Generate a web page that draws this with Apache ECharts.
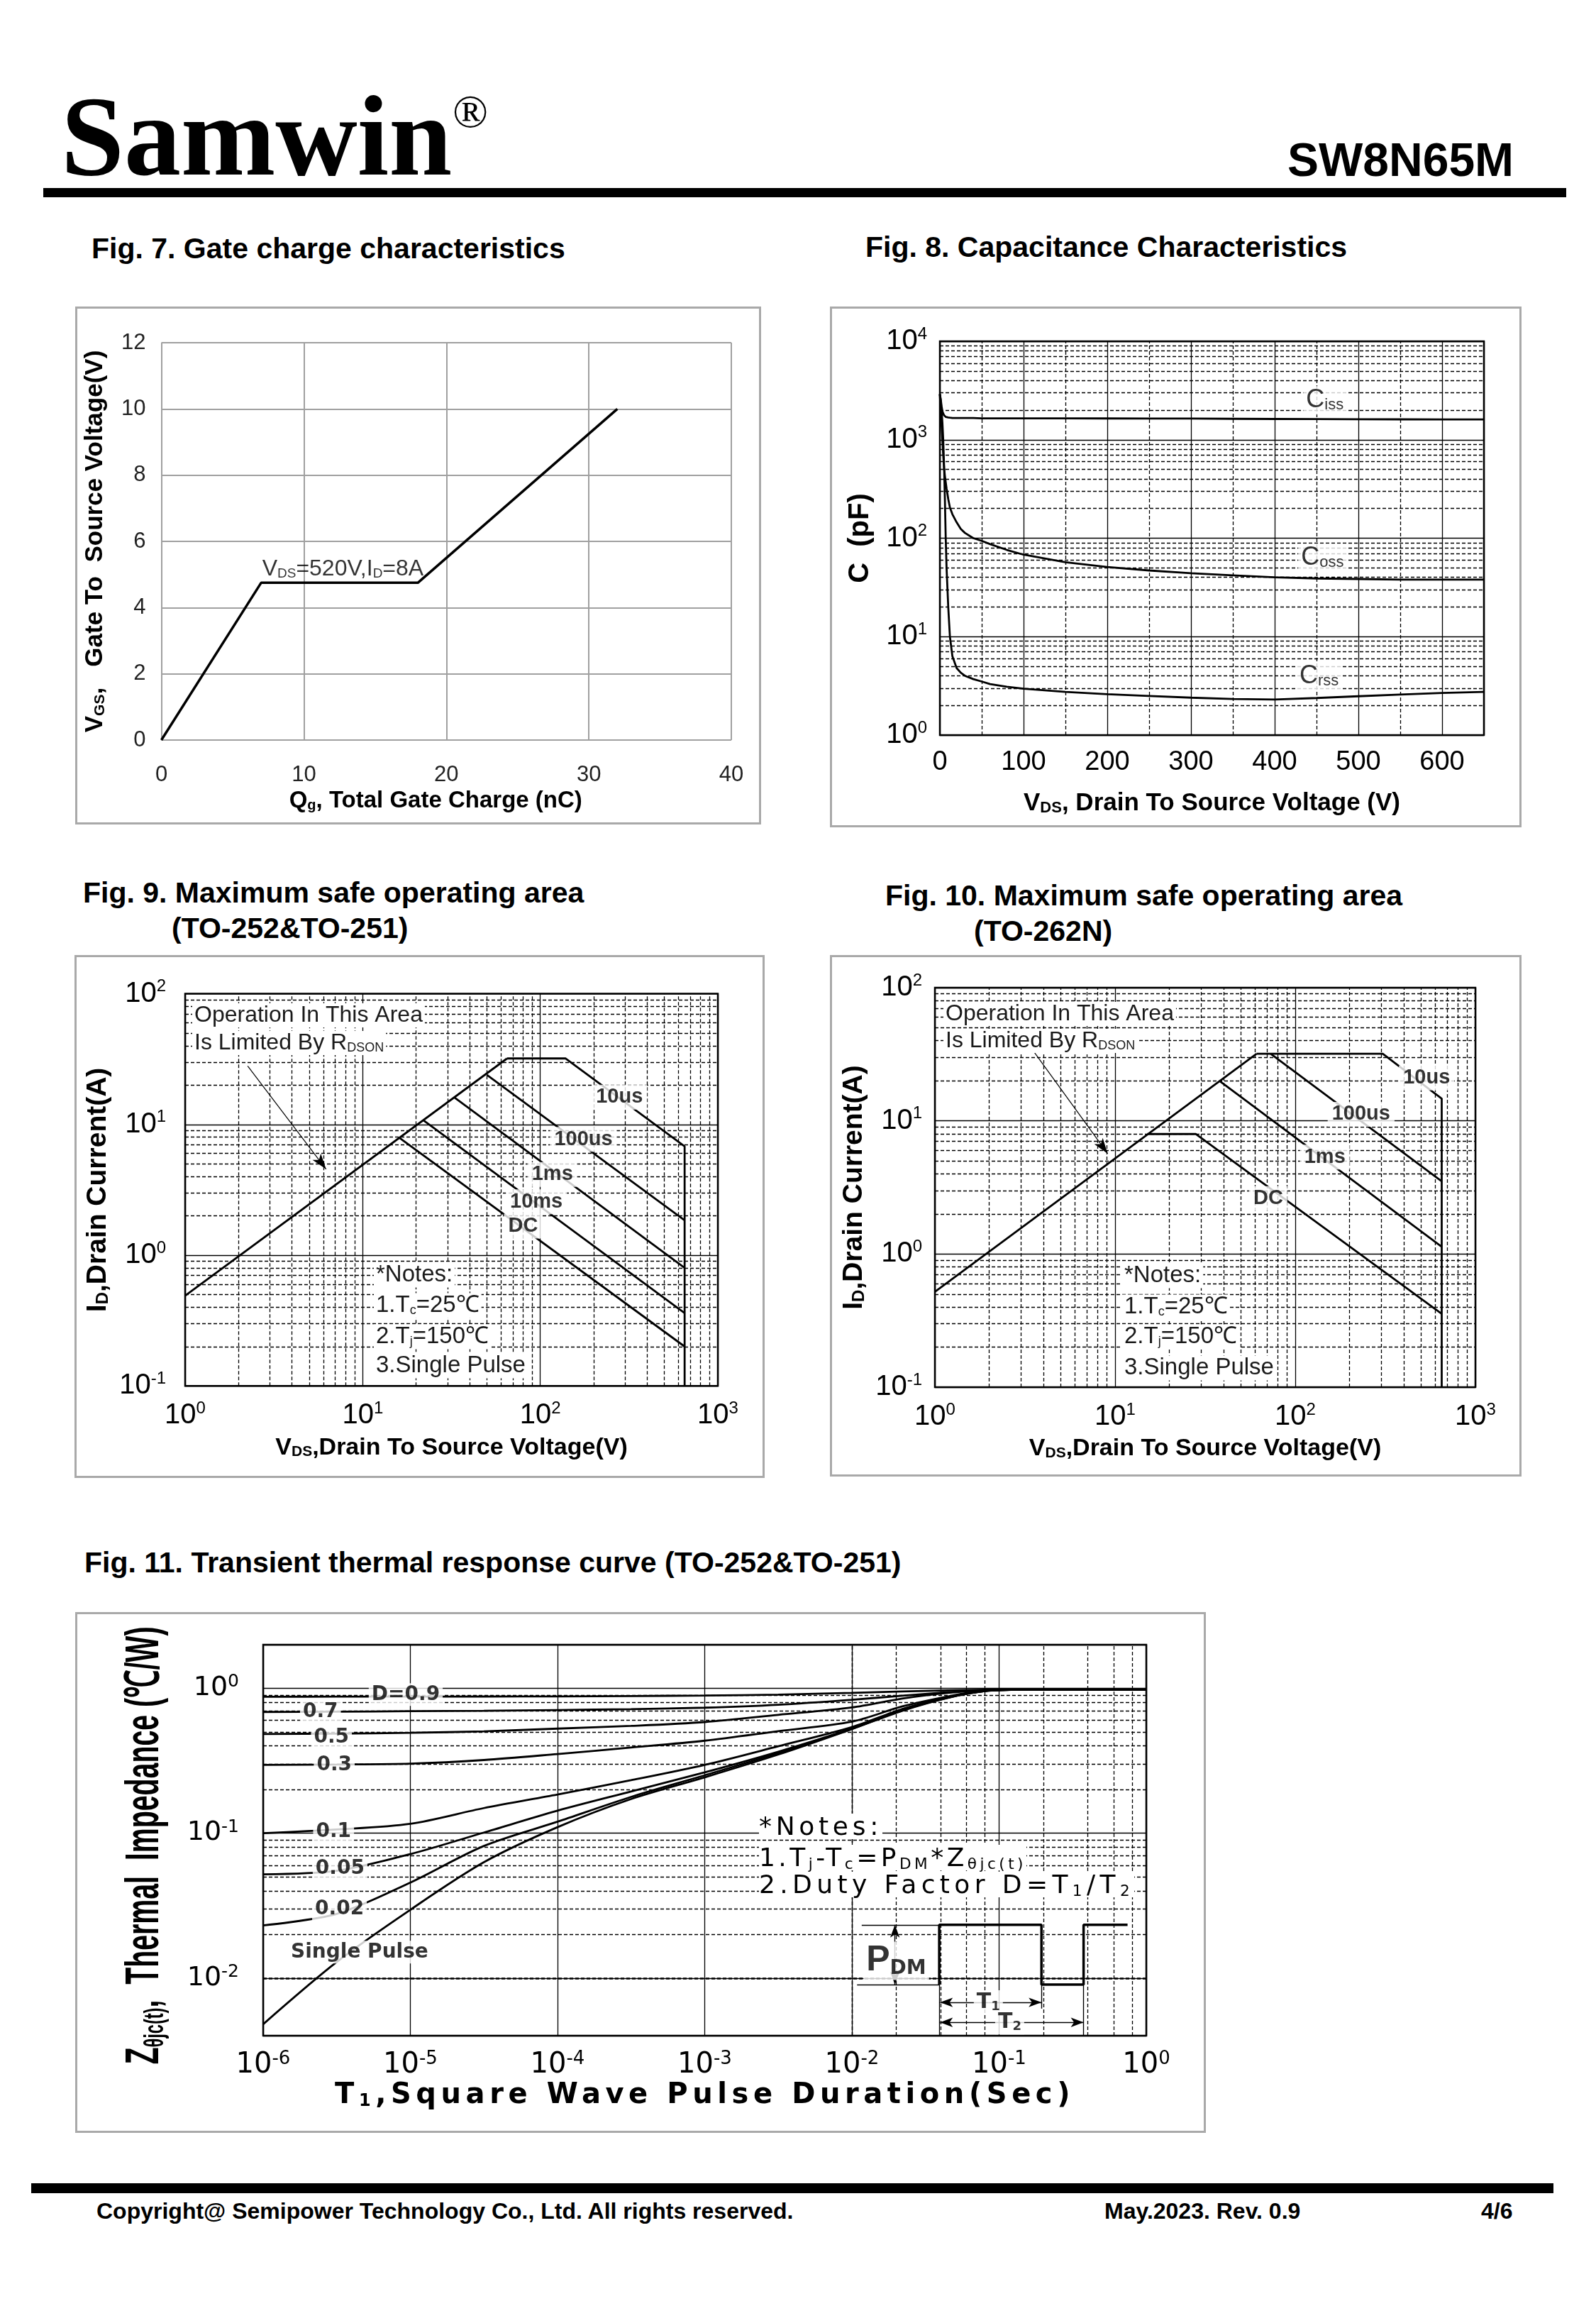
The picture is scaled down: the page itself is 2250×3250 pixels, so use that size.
<!DOCTYPE html>
<html><head><meta charset="utf-8"><title>SW8N65M</title>
<script src="https://cdn.jsdelivr.net/npm/echarts@6.0.0/dist/echarts.min.js"></script>
<style>
html,body{margin:0;padding:0;background:#fff}
body{position:relative;width:2250px;height:3250px;overflow:hidden;font-family:"Liberation Sans",Arial,sans-serif;color:#000}
.t{position:absolute;white-space:nowrap;line-height:1}
.bd{font-weight:bold}
sub{font-size:0.6em;vertical-align:-0.18em;line-height:0}
</style></head><body>
<div class="t bd" style="left:86px;top:112px;font-family:'Liberation Serif',serif;font-size:160px;">Samwin</div>
<div class="t" style="left:638px;top:124px;font-family:'Liberation Serif',serif;font-size:66px;">®</div>
<div class="t bd" style="left:1815px;top:192px;font-size:66px;">SW8N65M</div>
<div style="position:absolute;left:61px;top:265px;width:2147px;height:13px;background:#000"></div>

<div class="t bd" style="left:129px;top:330px;font-size:41px;">Fig. 7. Gate charge characteristics</div>
<div class="t bd" style="left:1220px;top:328px;font-size:41px;">Fig. 8. Capacitance Characteristics</div>
<div class="t bd" style="left:117px;top:1238px;font-size:41px;">Fig. 9. Maximum safe operating area</div>
<div class="t bd" style="left:242px;top:1288px;font-size:41px;">(TO-252&amp;TO-251)</div>
<div class="t bd" style="left:1248px;top:1242px;font-size:41px;">Fig. 10. Maximum safe operating area</div>
<div class="t bd" style="left:1373px;top:1292px;font-size:41px;">(TO-262N)</div>
<div class="t bd" style="left:119px;top:2182px;font-size:41px;">Fig. 11. Transient thermal response curve (TO-252&amp;TO-251)</div>

<div style="position:absolute;left:44px;top:3077px;width:2146px;height:14px;background:#000"></div>
<div class="t bd" style="left:136px;top:3100px;font-size:32px;">Copyright@ Semipower Technology Co., Ltd. All rights reserved.</div>
<div class="t bd" style="left:1557px;top:3100px;font-size:32px;">May.2023. Rev. 0.9</div>
<div class="t bd" style="left:2088px;top:3100px;font-size:32px;">4/6</div>

<script>
const FONT = '"Liberation Sans", Arial, sans-serif';
const DJ = '"DejaVu Sans", "Liberation Sans", sans-serif';

// ---------------- DATA ----------------
// Fig 7: gate charge
const gateQg  = [0, 7, 18, 32];
const gateVgs = [0, 4.75, 4.75, 10];

// Fig 8: capacitance
const capVds  = [0,1,2,3,4,5,6,7,8,10,12,15,20,25,30,40,50,60,80,100,150,200,250,300,350,400,450,500,550,600,650];
const capCiss = [2900,2600,2200,1950,1850,1770,1730,1705,1695,1685,1675,1665,1660,1660,1660,1660,1650,1650,1648,1648,1646,1645,1643,1640,1632,1625,1620,1615,1612,1610,1610];
const capCoss = [2900,2000,1400,1000,700,520,430,370,320,250,205,175,145,124,113,100,94,87,76,68,57,51,47,44,42,40,39,38.5,38,38,38];
const capCrss = [2900,2500,2000,1500,1000,550,250,100,50,20,10,6.3,4.8,4.3,4.0,3.7,3.5,3.3,3.1,2.96,2.75,2.6,2.5,2.4,2.33,2.3,2.38,2.48,2.58,2.68,2.75];

// Fig 9: SOA TO-252/TO-251  [VDS, ID]
const soa9Rds   = [[1,0.49],[65,32]];
const soa9T10us = [[65,32],[139,32],[650,6.8],[650,0.1]];
const soa9T100us= [[50,24],[650,1.85]];
const soa9T1ms  = [[33,16],[650,0.8]];
const soa9T10ms = [[21.9,10.8],[650,0.36]];
const soa9Dc    = [[16.2,7.85],[650,0.2]];

// Fig 10: SOA TO-262N
const soa10Rds   = [[1,0.52],[61,31.9]];
const soa10T10us = [[61,31.9],[306,31.9],[650,14.7],[650,0.1]];
const soa10T100us= [[73,31.9],[650,3.52]];
const soa10T1ms  = [[38.2,19.8],[650,1.135]];
const soa10Dc    = [[15.1,7.96],[28.1,7.96],[650,0.356]];

// Fig 11: transient thermal impedance
const thermT   = [1e-6,3.16e-6,1e-5,3.16e-5,1e-4,3.16e-4,1e-3,3.16e-3,1e-2,2.2e-2,4.5e-2,8e-2,0.15,0.4,1];
const thermD09 = [0.875,0.876,0.877,0.878,0.880,0.885,0.892,0.905,0.930,0.952,0.968,0.977,0.980,0.980,0.980];
const thermD07 = [0.687,0.690,0.695,0.700,0.708,0.718,0.735,0.770,0.833,0.890,0.940,0.972,0.980,0.980,0.980];
const thermD05 = [0.484,0.487,0.493,0.505,0.527,0.550,0.585,0.656,0.738,0.850,0.930,0.970,0.980,0.980,0.980];
const thermD03 = [0.296,0.298,0.302,0.320,0.352,0.390,0.435,0.506,0.589,0.750,0.880,0.965,0.980,0.980,0.980];
const thermD01 = [0.100,0.106,0.116,0.149,0.185,0.232,0.296,0.398,0.540,0.720,0.870,0.960,0.978,0.980,0.980];
const thermD005= [0.052,0.055,0.0717,0.101,0.143,0.194,0.263,0.365,0.528,0.710,0.865,0.958,0.978,0.980,0.980];
const thermD002= [0.0231,0.0277,0.0456,0.0816,0.120,0.178,0.251,0.357,0.525,0.705,0.862,0.957,0.978,0.980,0.980];
const thermSP  = [0.0048,0.0129,0.0296,0.063,0.110,0.172,0.243,0.349,0.523,0.700,0.860,0.956,0.978,0.980,0.980];
const thermCurves = [thermD09,thermD07,thermD05,thermD03,thermD01,thermD005,thermD002,thermSP];
// ----------------------------------------

function pairs(xs, ys){ return xs.map((x,i)=>[x, ys[i]]); }
function pow10(v){ const e=Math.log10(v), r=Math.round(e); return Math.abs(e-r)>1e-6 ? '' : '{b|10}{s|'+r+'}'; }
function logMinor(lo, hi, mults){ const o=[]; for(let e=-8;e<=5;e++){ for(const m of mults){ const v=+(m*Math.pow(10,e)).toPrecision(6); if(v>lo*1.0001 && v<hi*0.9999) o.push(v);} } return o; }
const DASH = {type:[5,3], color:'#000', width:1.3};
function minorLines(xs, ys){
  return {silent:true, symbol:'none', z:1, animation:false, label:{show:false}, emphasis:{disabled:true},
    lineStyle:DASH, data:[...xs.map(v=>({xAxis:v})), ...ys.map(v=>({yAxis:v}))]};
}
function supRich(b, s, fam){ fam=fam||FONT; return {b:{fontSize:b,fontFamily:fam,color:'#000',lineHeight:b+4}, s:{fontSize:s,fontFamily:fam,color:'#000',verticalAlign:'top',lineHeight:s}}; }
function subRich(b, s, bold, fam){ fam=fam||FONT; const w=bold?'bold':'normal'; return {b:{fontSize:b,fontWeight:w,fontFamily:fam,color:'#000'}, s:{fontSize:s,fontWeight:w,fontFamily:fam,color:'#000',verticalAlign:'bottom'}}; }
function labelSeries(items, style){
  return {type:'scatter', z:10, silent:true, symbol:'circle', symbolSize:2, itemStyle:{color:'rgba(255,255,255,0)'},
    label:Object.assign({show:true, position:'inside', color:'#000', backgroundColor:'#fff'}, style),
    labelLayout:{hideOverlap:false},
    data:items.map(it=>({value:[it[0],it[1]], label:{formatter:it[2]}}))};
}
function logAxis(o){
  return Object.assign({type:'log', logBase:10, axisLine:{show:false}, axisTick:{show:false},
    splitLine:{show:true, lineStyle:{color:'#000', width:1.3}}}, o);
}
function lineS(data, extra){ return Object.assign({type:'line', data:data, symbol:'none', silent:true, z:3, lineStyle:{color:'#000', width:2.8}}, extra||{}); }
function makeChart(box){
  const d=document.createElement('div');
  Object.assign(d.style,{position:'absolute',left:box[0]+'px',top:box[1]+'px',width:box[2]+'px',height:box[3]+'px'});
  document.body.appendChild(d);
  const b=document.createElement('div');
  Object.assign(b.style,{position:'absolute',left:box[0]+'px',top:box[1]+'px',width:box[2]+'px',height:box[3]+'px',border:'3px solid #a9a9a9',boxSizing:'border-box',pointerEvents:'none'});
  document.body.appendChild(b);
  return echarts.init(d, null, {renderer:'canvas'});
}
function gtext(x, y, text, size, rich){
  return {type:'text', x:x, y:y, z:20, silent:true, style:{text:text, fontSize:size, fontFamily:FONT, fill:'#1a1a1a', align:'left', verticalAlign:'middle', backgroundColor:'#fff', padding:[1,3], rich:rich||{}}};
}

// ---------------- Fig 7 ----------------
const c7 = makeChart([106,432,967,730]);
c7.setOption({
  animation:false,
  grid:{left:121.5, top:51, width:803.5, height:560, containLabel:false, outerBoundsMode:'none'},
  xAxis:{type:'value', min:0, max:40, interval:10, axisLine:{show:false}, axisTick:{show:false},
    splitLine:{show:true, lineStyle:{color:'#a0a0a0', width:2}},
    axisLabel:{margin:34, fontSize:31, fontFamily:FONT, color:'#222'},
    name:'{b|Q}{s|g}{b|, Total Gate Charge (nC)}', nameLocation:'middle', nameGap:58,
    nameTextStyle:{rich:subRich(33,20,true), padding:[0,30,0,0]}},
  yAxis:{type:'value', min:0, max:12, interval:2, axisLine:{show:false}, axisTick:{show:false},
    splitLine:{show:true, lineStyle:{color:'#a0a0a0', width:2}},
    axisLabel:{margin:22, fontSize:31, fontFamily:FONT, color:'#222'},
    name:'{b|V}{s|GS}{b|,   Gate To  Source Voltage(V)}', nameLocation:'middle', nameGap:76,
    nameTextStyle:{rich:subRich(35,21,true)}},
  series:[
    lineS(pairs(gateQg, gateVgs), {lineStyle:{color:'#000', width:3.5}}),
    labelSeries([[12.74,5.15,'{b|V}{s|DS}{b|=520V,I}{s|D}{b|=8A}']], {backgroundColor:'transparent', rich:subRich(32,19,false)})
  ]
});

// ---------------- Fig 8 ----------------
const c8 = makeChart([1170,432,975,734]);
c8.setOption({
  animation:false,
  grid:{left:155, top:49, width:767, height:555, show:true, borderColor:'#000', borderWidth:2.5, containLabel:false, outerBoundsMode:'none'},
  xAxis:{type:'value', min:0, max:650, interval:100, axisLine:{show:false}, axisTick:{show:false},
    splitLine:{show:true, lineStyle:{color:'#000', width:1.3}},
    axisLabel:{margin:20, fontSize:38, fontFamily:FONT, color:'#000', formatter:v=>(v%100===0?String(v):'')},
    name:'{b|V}{s|DS}{b|, Drain To Source Voltage (V)}', nameLocation:'middle', nameGap:79,
    nameTextStyle:{rich:subRich(35,22,true)}},
  yAxis:logAxis({min:1, max:10000, axisLabel:{margin:18, formatter:pow10, rich:supRich(40,24)},
    name:'C  (pF)', nameLocation:'middle', nameGap:92,
    nameTextStyle:{fontSize:40, fontWeight:'bold', fontFamily:FONT, color:'#000'}}),
  series:[
    lineS(pairs(capVds, capCiss), {markLine:minorLines([50,150,250,350,450,550], logMinor(1,10000,[2,3,4,5,6,7,8,9]))}),
    lineS(pairs(capVds, capCoss)),
    lineS(pairs(capVds, capCrss)),
    labelSeries([[460,2510,'{c|C}{s|iss}'],[457,63,'{c|C}{s|oss}'],[453,3.95,'{c|C}{s|rss}']],
      {padding:[2,4], rich:{c:{fontSize:36,fontFamily:FONT,color:'#000'}, s:{fontSize:22,fontFamily:FONT,color:'#000',verticalAlign:'bottom'}}})
  ]
});

// ---------------- Fig 9 / Fig 10 ----------------
function soaOption(g, lines, labels, arrow, ylabMargin, texts){
  return {
    animation:false,
    grid:Object.assign({show:true, borderColor:'#000', borderWidth:2.5, containLabel:false, outerBoundsMode:'none'}, g),
    xAxis:logAxis({min:1, max:1000, axisLabel:{margin:20, formatter:pow10, rich:supRich(40,24)},
      name:'{b|V}{s|DS}{b|,Drain To Source Voltage(V)}', nameLocation:'middle', nameGap:70,
      nameTextStyle:{rich:subRich(34,21,true)}}),
    yAxis:logAxis({min:0.1, max:100, axisLabel:{margin:ylabMargin, formatter:pow10, rich:supRich(40,24)},
      name:'{b|I}{s|D}{b|,Drain Current(A)}', nameLocation:'middle', nameGap:81,
      nameTextStyle:{rich:subRich(39,24,true)}}),
    series:[
      lineS(lines[0], {markLine:minorLines(logMinor(1,1000,[2,3,4,5,6,7,8,9]), logMinor(0.1,100,[2,3,4,5,6,7,8,9]))}),
      lineS(lines[1], {markLine:{silent:true, z:6, animation:false, label:{show:false}, symbol:['none','arrow'], symbolSize:[11,22],
        lineStyle:{color:'#000', width:1.2, type:'solid'}, data:[[{coord:arrow[0]},{coord:arrow[1]}]]}}),
      ...lines.slice(2).map(d=>lineS(d)),
      labelSeries(labels, {fontSize:29, fontWeight:'bold', fontFamily:FONT, padding:[3,6]})
    ],
    graphic:texts
  };
}
const soaTextRich = {s:{fontSize:18, fontFamily:FONT, fill:'#1a1a1a', verticalAlign:'bottom'}};
const c9 = makeChart([105,1346,973,737]);
c9.setOption(soaOption({left:156, top:54.6, width:751, height:552.6},
  [soa9Rds, soa9T10us, soa9T100us, soa9T1ms, soa9T10ms, soa9Dc],
  [[279,16.2,'10us'],[175,7.7,'100us'],[117,4.15,'1ms'],[95,2.56,'10ms'],[80,1.67,'DC']],
  [[2.25,28],[6.22,4.55]], 27,
  [gtext(166,85,'Operation In This Area',32), gtext(166,124,'Is Limited By R{s|DSON}',32,soaTextRich),
   gtext(422,451,'*Notes:',33), gtext(422,494,'1.T{s|c}=25℃',33,soaTextRich),
   gtext(422,538,'2.T{s|j}=150℃',33,soaTextRich), gtext(422,579,'3.Single Pulse',33)]));

const c10 = makeChart([1170,1346,975,735]);
c10.setOption(soaOption({left:148, top:46, width:762, height:563},
  [soa10Rds, soa10T10us, soa10T100us, soa10T1ms, soa10Dc],
  [[536,21,'10us'],[232,11.2,'100us'],[146,5.35,'1ms'],[70.8,2.61,'DC']],
  [[3.5,33.8],[9.1,5.67]], 18,
  [gtext(160,83,'Operation In This Area',32), gtext(160,121,'Is Limited By R{s|DSON}',32,soaTextRich),
   gtext(412,452,'*Notes:',33), gtext(412,496,'1.T{s|c}=25℃',33,soaTextRich),
   gtext(412,538,'2.T{s|j}=150℃',33,soaTextRich), gtext(412,582,'3.Single Pulse',33)]));

// ---------------- Fig 11 ----------------
const c11 = makeChart([106,2272,1594,734]);
const pulseMarks = [
  [[0.01166,0.0233],[0.0392,0.0233],'none'],
  [[0.01084,0.009],[0.0392,0.009],'none'],
  [[0.0196,0.0133],[0.0196,0.0233],'arrow'],
  [[0.0196,0.0133],[0.0196,0.009],'arrow'],
  [[0.0392,0.009],[0.0392,0.004],'none'],
  [[0.194,0.009],[0.194,0.00615],'none'],
  [[0.375,0.009],[0.375,0.004],'none'],
  [[0.0845,0.00679],[0.0397,0.00679],'arrow'],
  [[0.0845,0.00679],[0.194,0.00679],'arrow'],
  [[0.118,0.00494],[0.0397,0.00494],'arrow'],
  [[0.118,0.00494],[0.375,0.00494],'arrow']
];
c11.setOption({
  animation:false,
  grid:{left:265, top:46, width:1245, height:551, show:true, borderColor:'#000', borderWidth:2.5, containLabel:false, outerBoundsMode:'none'},
  xAxis:logAxis({min:1e-6, max:1, axisLabel:{margin:20, formatter:pow10, rich:supRich(40,26,DJ)}}),
  yAxis:logAxis({min:0.004, max:2, axisLabel:{margin:34, formatter:pow10, rich:supRich(38,25,DJ)}}),
  series:[
    ...thermCurves.map((c,i)=>lineS(pairs(thermT, c), Object.assign({smooth:0.3, lineStyle:{color:'#000', width:2.8}},
      i===0 ? {markLine:minorLines(logMinor(1e-6,1,[2,4,6,8]), logMinor(0.004,2,[2,3,4,5,6,7,8,9]).filter(v=>v<1))} : {}))),
    lineS([[0.0392,0.009],[0.0392,0.0233],[0.194,0.0233],[0.194,0.009],[0.375,0.009],[0.375,0.0233],[0.746,0.0233]],
      {lineStyle:{color:'#000', width:3.5}, markLine:{silent:true, z:6, animation:false, label:{show:false}, symbolSize:[10,18],
        lineStyle:{color:'#000', width:1.4, type:'solid'},
        data:pulseMarks.map(m=>[{coord:m[0], symbol:'none'},{coord:m[1], symbol:m[2]}])}}),
    labelSeries([[9.3e-6,0.905,'D=0.9'],[2.45e-6,0.687,'0.7'],[2.91e-6,0.459,'0.5'],[3.04e-6,0.294,'0.3'],
      [3.01e-6,0.102,'0.1'],[3.33e-6,0.057,'0.05'],[3.3e-6,0.0298,'0.02'],[4.52e-6,0.0151,'Single Pulse']],
      {fontSize:28, fontWeight:'bold', fontFamily:DJ, padding:[2,4]}),
    labelSeries([[0.02,0.01315,'{p|P}{d|DM}'],[0.0845,0.00679,'{t|T}{n|1}'],[0.118,0.00494,'{t|T}{n|2}']],
      {padding:[2,4], rich:{p:{fontSize:50,fontWeight:'bold',fontFamily:FONT,color:'#000'},
        d:{fontSize:28,fontWeight:'bold',fontFamily:DJ,color:'#000',verticalAlign:'bottom'},
        t:{fontSize:30,fontWeight:'bold',fontFamily:DJ,color:'#000'},
        n:{fontSize:18,fontWeight:'bold',fontFamily:DJ,color:'#000',verticalAlign:'bottom'}}})
  ]
});

// HTML texts for fig 11 (spaced / condensed lettering)
function htmlText(html, css){ const d=document.createElement('div'); d.className='t'; d.innerHTML=html; Object.assign(d.style, css); document.body.appendChild(d); return d; }
const NF = '"DejaVu Sans", "Liberation Sans", sans-serif';
const n1 = htmlText('*Notes:', {left:'1070px', top:'2556px', fontSize:'36px', fontFamily:NF, background:'#fff', zIndex:5});
const n2 = htmlText('1.T<sub>j</sub>-T<sub>c</sub>=P<sub>DM</sub>*Z<sub>θjc(t)</sub>', {left:'1070px', top:'2600px', fontSize:'36px', fontFamily:NF, background:'#fff', zIndex:5});
const n3 = htmlText('2.Duty Factor D=T<sub>1</sub>/T<sub>2</sub>', {left:'1070px', top:'2638px', fontSize:'36px', fontFamily:NF, background:'#fff', zIndex:5});
const xn = htmlText('T<sub>1</sub>,Square Wave Pulse Duration(Sec)', {left:'472px', top:'2930px', fontSize:'40px', fontFamily:NF, fontWeight:'bold', zIndex:5});
const yn = htmlText('Z<sub>θjc(t)</sub>,&nbsp; Thermal&nbsp; Impedance (℃/W)', {left:'0px', top:'0px', fontSize:'66px', fontWeight:'bold', zIndex:5});
function fitSpacing(el, target){ el.style.letterSpacing='0px'; const w=el.getBoundingClientRect().width; const n=el.textContent.length; el.style.letterSpacing=Math.max(0,(target-w)/n)+'px'; }
function fitRot(el, target, cx, cy){ el.style.transform='none'; const r=el.getBoundingClientRect(); const s=target/r.width;
  el.style.left=(cx-r.width/2)+'px'; el.style.top=(cy-r.height/2)+'px'; el.style.transformOrigin='50% 50%';
  el.style.transform='rotate(-90deg) scaleX('+s+')'; }
function fitAll(){ fitSpacing(n1,174); fitSpacing(n2,377); fitSpacing(n3,529); fitSpacing(xn,1043); fitRot(yn,617,200,2601); }
fitAll();
if (document.fonts && document.fonts.ready) document.fonts.ready.then(fitAll);
</script>
</body></html>
